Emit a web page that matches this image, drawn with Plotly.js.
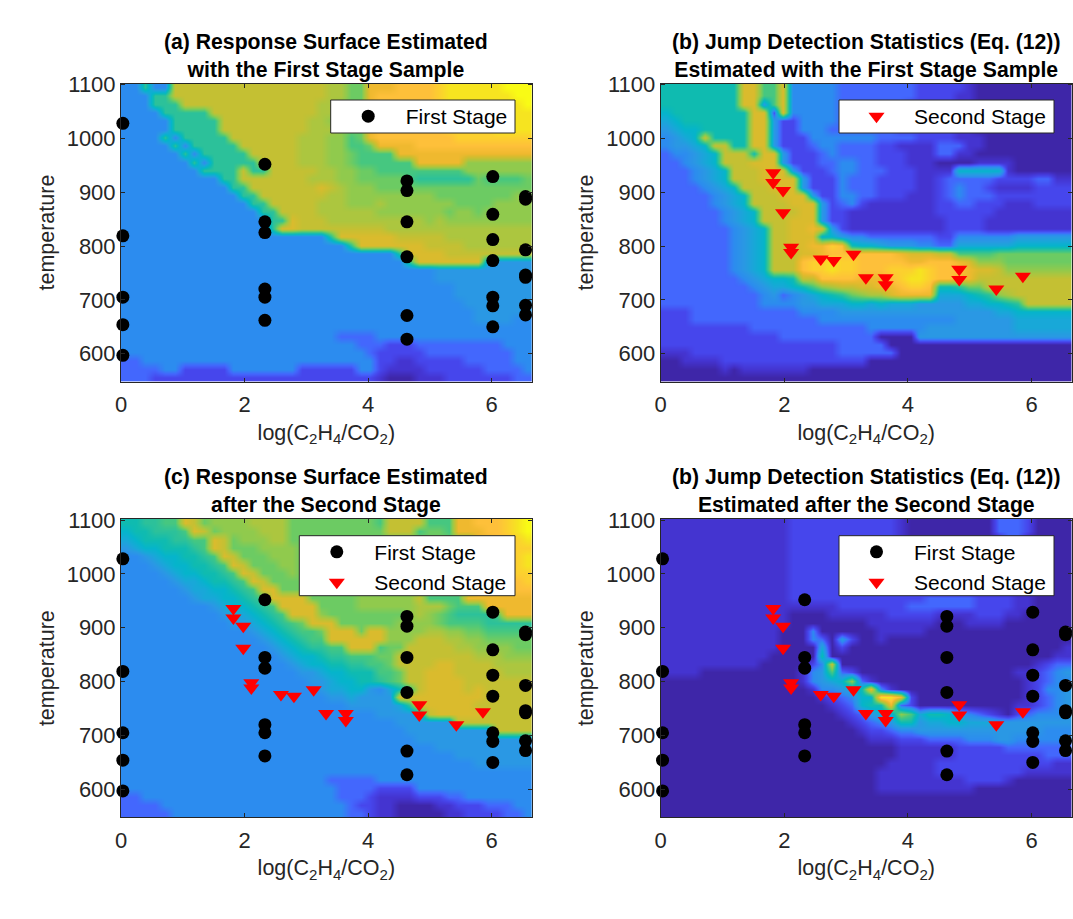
<!DOCTYPE html>
<html><head><meta charset="utf-8">
<script src="https://cdn.plot.ly/plotly-3.0.1.min.js"></script>
<style>html,body{margin:0;padding:0;background:#fff}</style></head>
<body><div id="chart" style="width:1073px;height:919px"></div>
<script>
// Each surface: rows from top (high temperature) to bottom, one base-36 colour level per cell.
const surfaceA = [
"44944e eeeeee eeeeee eeeddb bggghh hhijjj jjjkkk",
"44499e eeeeee eeeeee eeeddb bghhhh hhijjj jjjjkk",
"444999 eeeeee eeeeee eeddcb bghhhh hhijjj jjjjjk",
"444499 999eee eeeeee eeddcb bghhhh hhiijj jjjjjj",
"444449 9999ee eeeeee eddccb bghhhh hhiiij jjjjjj",
"444449 9999ee eeeeee edddcb bghhhh hhhiii iijjjj",
"444494 99999e eeeeee dddcca bghhhh hhhhii iiiiii",
"444449 499999 eeeeee dddcca abgggg hhhhhh hhhhhh",
"444444 949999 9eeeee dddccb aaaagg gggggg gggggg",
"444444 494999 99eeee dddccb aaaaaa gggggc cccccc",
"444444 449999 e99eee eeddcc bbaaaa aaaaac cccccc",
"444444 444499 eeeeee edddcc bbbbba 999999 baaaab",
"444444 444449 9eeeee eefedc ccbbbb bbbbbb bbbbbb",
"444444 444444 99eeee eeeddc cccccc ccbbbb bbbbcc",
"444444 444444 499eee eedddc ccdccc ccccbb bbcccc",
"444444 444444 4499ee eedddd ddcccc cccbcc bccccc",
"444444 444444 44499f eeeddd dddddd dcdccc cccccc",
"444444 444444 4449ff eeeeee eeeddd dddddd dddddd",
"444444 444444 444444 4449ff ffffee eeeddd dddddd",
"444444 444444 444444 444449 ffffff feeeed dddddd",
"444444 444444 444444 444444 44449f fffeee eeeeee",
"444444 444444 444444 444444 444449 ffffff f55555",
"444444 444444 444444 444444 444444 445555 555555",
"444444 444444 444444 444444 444444 445555 555555",
"444444 444444 444444 444444 444444 444455 555555",
"444444 444444 444444 444444 444444 444455 555555",
"444444 444444 444444 444444 444444 444445 555555",
"444444 444444 444444 444444 444444 444444 555555",
"444444 444444 444444 444444 444444 444444 555544",
"444444 444444 444444 444444 444444 444444 444444",
"444444 444444 444444 444433 334444 444444 444444",
"444444 444444 444444 444444 333222 333333 333444",
"444444 444444 444444 444444 432222 233333 333344",
"334444 444444 444444 444444 442211 222223 333344",
"333344 222224 444444 222222 442111 122222 233334",
"333222 222222 222222 222222 221000 111222 222233"
];
const surfaceB = [
"888888 88ffaa f44444 333333 332222 210000 000000",
"888888 88ffaa f44444 333333 332222 110000 000000",
"888888 88ff5a f44444 333333 322222 110000 000000",
"788888 888ff2 f44444 333333 322222 110000 000000",
"678888 888ff5 224444 333333 322222 110000 000000",
"567788 888ff5 224443 333333 222222 110000 000000",
"4567e8 888ff5 222444 444433 332222 111000 000000",
"45567e e88ff5 222344 333322 111133 311000 000000",
"344567 eee8ff 522234 333322 211133 110000 000000",
"334567 eeefff 522233 443322 211100 001111 000000",
"333456 7eeeff f52223 443332 221111 777771 000000",
"333456 7eeeff ff5222 433322 221123 333322 223311",
"333345 67eeef ff5222 433322 221123 433211 112222",
"333334 567eee fff522 443322 211123 433322 222222",
"333334 567eee efff52 342111 111122 332221 112222",
"333333 4567ee eeff52 211111 111122 222211 111111",
"333333 4567ee efff52 211111 111112 222111 111111",
"333333 34567e effgf5 211111 111112 222111 111111",
"333333 34567e efff77 544333 333322 444444 555555",
"333333 34567e effggi h87765 554433 666666 777777",
"333333 34567e eeffgh hhhhhh gfffee aaaabb bbbbbb",
"333333 34567e eehiij iihhhh hgghhh gfcccb bbbbbb",
"333333 34567e eehiij iihhhi iijihh hgffec cccccc",
"333333 334567 78eehh hhgggh ijjihh ggeeee eeeeee",
"333333 333456 678acd eeffgg hiih88 9bbeee eeeeee",
"333333 333345 345678 9bcddf gggg66 6789cd eeeeee",
"333333 333344 445566 677676 665555 566778 9eeeee",
"222333 333333 334444 555555 555555 555566 777777",
"222333 333333 333344 444444 444444 555555 666666",
"222222 222333 333333 333444 444555 555555 666666",
"222222 222222 333333 333300 005555 555555 555555",
"222222 222222 222222 333330 000000 000000 000000",
"111222 222222 222222 333333 000000 000000 000000",
"001111 222222 222222 222000 000000 000000 000000",
"000000 101111 111000 000000 000000 000000 000000",
"000000 000000 000000 000000 000000 000000 000000"
];
const surfaceC = [
"8899aa febccc cddddb bbbbbb bbaeee eaaagg hhhijk",
"788999 afebcc ccdddb bbbbbb bbbeee abbagg ghhijk",
"678889 9aafeb cccddb bbbbbb bbbbbb bbbbbb gghhij",
"567788 89afeb bbcccc bbbbbb bbbbbb bbbbbb gghhii",
"445677 889afe bbbccc bbbbbb bbbbbb bbbbbb gghhij",
"444567 7889af ebbbcc bbbbbb bbbbbb bbbbbb gghhij",
"444456 77889a febbbc bbbbbb bbbbbb bbbbbb gghhii",
"444445 667889 afebbb bbbbbb bbbbbb bbbbbb ggghhi",
"444444 566778 9affbb bbbbbb bbbbbb bbbbbb gggghh",
"444444 456677 89afff fbbbbb cccccc eaaaag gggggg",
"444444 444567 789aff ffbbbb cccccc dddbaa aggggg",
"444444 444456 6789af ffcbbb bbbbbc dcba99 99aggg",
"444444 444445 56789a bfffbb bbbbcc ccbaaa a99999",
"444444 444444 456789 aabfff bffccc cddccb baaaaa",
"444444 444444 445678 9aafff fffccc eeeddc cbbbbb",
"444444 444444 444567 899aaf ffabbe eeeedd ccccbb",
"444444 444444 444456 77899a aabbee eeeeee dddccc",
"444444 444444 444445 677889 9aabee eeffee eedddd",
"444444 444444 444444 556778 88aabe efffee eeeddd",
"444444 444444 444444 455677 889abe effffe eeeeee",
"444444 444444 444444 445667 754689 effffe feeeee",
"444444 444444 444444 444556 5555ff ffffff feeeee",
"444444 444444 444444 444445 555569 ffffff eeeeee",
"444444 444444 444444 444444 445555 6effff feeeee",
"444444 444444 444444 444444 444455 5555ee eeeeee",
"444444 444444 444444 444444 444445 555555 55eeee",
"444444 444444 444444 444444 444444 555555 555555",
"444444 444444 444444 444444 444444 445555 555555",
"444444 444444 444444 444444 444444 444455 555555",
"444444 444444 444444 444444 444444 444444 555555",
"444444 444444 444444 444444 444444 444444 444444",
"444444 444444 444444 444333 334444 444444 444444",
"444444 444444 444444 444433 332222 444444 444444",
"334444 444444 444444 444433 321111 222334 444444",
"333344 444444 444444 444443 221100 001122 233344",
"333334 444444 444444 444443 321100 000112 222334"
];
const surfaceD = [
"111111 111111 122222 222222 100000 000033 320000",
"111111 111111 122222 222222 100000 000033 320000",
"111111 111111 122222 222222 100000 000003 300000",
"111111 111111 122222 222222 100000 000000 000000",
"111111 111111 122222 222222 100000 000000 000000",
"111111 111111 122222 222222 100000 000000 000000",
"111111 111111 122222 222222 110000 000000 000000",
"111111 111111 122222 222222 111000 000000 000000",
"111111 111111 122222 222222 222000 000000 000000",
"111111 111111 122222 222222 222333 332222 110000",
"111111 111111 111111 222222 233333 332222 110000",
"111111 111111 100001 111112 222211 112221 100000",
"111111 111111 100000 000111 111100 011110 000000",
"111111 111111 000400 000011 111000 000000 000000",
"111111 111111 000430 520010 000000 000000 000000",
"111111 111111 000060 200000 000000 000000 000001",
"111111 111110 000080 000000 000000 000000 000011",
"111111 111100 00024e 000000 000000 000000 001233",
"111100 000000 00145a 320000 000000 000000 112345",
"000000 000000 001456 7c3100 000000 000000 012344",
"000000 000000 000144 568g41 000000 000000 012445",
"000000 000000 000012 3477jj g20000 000000 012345",
"000000 000000 000001 23788g 320000 000000 112345",
"000000 000000 000000 123566 ca6887 543210 234445",
"000000 000000 000000 012345 885667 766655 555555",
"000000 000000 000000 001223 445555 555555 555444",
"000000 000000 000000 000111 222333 344455 444444",
"000000 000000 000000 000000 111111 222223 333333",
"000000 000000 000000 000000 111111 222222 222333",
"000000 000000 000000 000001 111122 222222 222211",
"000000 000000 000000 000011 111122 222222 211111",
"000000 000000 000000 000011 111111 122221 000000",
"000000 000000 000000 000011 111111 110000 000000",
"000000 000000 000000 000000 000000 000000 000000",
"000000 000000 000000 000000 000000 000000 000000",
"000000 000000 000000 000000 000000 000000 000000"
];
const parulaLevels = ["#3e26a8","#4434d0","#4646ec","#4367fd","#2c8cef","#2a98e4","#18a8d8","#05b4cb","#0fbbb0","#2cc19a","#46c780","#6ccb63","#90ca4d","#acc63f","#c4c033","#dabb2d","#efb92f","#fec03a","#fcd02f","#f6e420","#f9fb15"];
const firstX = [0.03,0.03,0.03,0.03,0.03, 2.33,2.33,2.33,2.33,2.33,2.33, 4.63,4.63,4.63,4.63,4.63,4.63, 6.02,6.02,6.02,6.02,6.02,6.02,6.02, 6.55,6.55,6.55,6.55,6.55,6.55,6.55];
const firstY = [1028,819,705,654,597, 952,845,825,720,705,662, 921,903,845,780,671,627, 929,859,812,773,705,689,650, 892,887,793,746,742,690,672];
const secondX = [1.82,1.82,1.98,1.98,2.11,2.11,2.59,2.80,3.12,3.32,3.64,3.64,4.83,4.83,5.43,5.86];
const secondY = [936,918,903,862,798,788,776,773,785,741,741,728,757,738,720,744];
const xTicks = [0,2,4,6];
const yTicks = [600,700,800,900,1000,1100];
const titles = [
 "(a) Response Surface Estimated<br>with the First Stage Sample",
 "(b) Jump Detection Statistics (Eq. (12))<br>Estimated with the First Stage Sample",
 "(c) Response Surface Estimated<br>after the Second Stage",
 "(b) Jump Detection Statistics (Eq. (12))<br>Estimated after the Second Stage"
];
const xRange = [0,6.65], yRange = [548,1102];
const W = 1073, H = 919;
const FONT = '"Liberation Sans", Arial, sans-serif', INK = '#262626';

function decode(rows){
  return rows.map(r=>r.replace(/\s/g,'').slice(0,42).padEnd(42,r.trim().slice(-1)).split('').map(ch=>parseInt(ch,36))).reverse();
}
const scale = parulaLevels.map((c,i)=>[i/(parulaLevels.length-1),c]);
const cx = Array.from({length:42},(_,i)=>(i+.5)*(xRange[1]-xRange[0])/42);
const cy = Array.from({length:36},(_,j)=>yRange[0]+(j+.5)*(yRange[1]-yRange[0])/36);
const panels = [
 {z:surfaceA, L:121,   R:531.7,  T:83.5, B:381.7, first:true,  second:false, leg:[330.7,100,515,133]},
 {z:surfaceB, L:660.7, R:1071.7, T:83.5, B:381.7, first:false, second:true,  leg:[839,100,1054,133]},
 {z:surfaceC, L:121,   R:531.7,  T:519,  B:817.3, first:true,  second:true,  leg:[299.3,535.7,515,595.7]},
 {z:surfaceD, L:660.7, R:1071.7, T:519,  B:817.3, first:true,  second:true,  leg:[839,535.7,1054,595.7]}
];
const traces=[], layout={width:W,height:H,margin:{l:0,r:0,t:0,b:0},paper_bgcolor:'#fff',plot_bgcolor:'#fff',
  font:{family:FONT,color:INK},annotations:[],shapes:[],showlegend:true};
panels.forEach((p,i)=>{
  const k=i+1, xa='x'+(k>1?k:''), ya='y'+(k>1?k:''), lg='legend'+(k>1?k:'');
  traces.push({type:'heatmap',x:cx,y:cy,z:decode(p.z),xaxis:xa,yaxis:ya,colorscale:scale,zmin:0,zmax:20,showscale:false,zsmooth:'best',hoverinfo:'skip'});
  if(p.first) traces.push({type:'scatter',mode:'markers',name:'First Stage',x:firstX,y:firstY,xaxis:xa,yaxis:ya,legend:lg,cliponaxis:false,
     marker:{symbol:'circle',size:13,color:'#000'}});
  if(p.second) traces.push({type:'scatter',mode:'markers',name:'Second Stage',x:secondX,y:secondY,xaxis:xa,yaxis:ya,legend:lg,cliponaxis:false,
     marker:{symbol:'triangle-down',size:14,color:'#ff0000'}});
  const ax={showline:true,linecolor:INK,linewidth:1,mirror:'ticks',ticks:'inside',ticklen:4,tickcolor:INK,showgrid:false,zeroline:false,
     tickfont:{family:FONT,size:22,color:INK}};
  layout['xaxis'+(k>1?k:'')]=Object.assign({},ax,{domain:[p.L/W,p.R/W],range:xRange,tickvals:xTicks,anchor:ya,ticklabelstandoff:3,
     title:{text:'log(C<sub>2</sub>H<sub>4</sub>/CO<sub>2</sub>)',font:{family:FONT,size:21.5,color:INK},standoff:8}});
  layout['yaxis'+(k>1?k:'')]=Object.assign({},ax,{domain:[1-p.B/H,1-p.T/H],range:yRange,tickvals:yTicks,anchor:xa,
     title:{text:'temperature',font:{family:FONT,size:21.5,color:INK},standoff:6}});
  layout.shapes.push({type:'rect',xref:'paper',yref:'paper',x0:p.leg[0]/W,x1:p.leg[2]/W,y0:1-p.leg[3]/H,y1:1-p.leg[1]/H,
     fillcolor:'#fff',line:{color:INK,width:1},layer:'above'});
  layout[lg]={x:p.leg[0]/W,y:1-(p.leg[1]-4)/H,xanchor:'left',yanchor:'top',bgcolor:'rgba(0,0,0,0)',borderwidth:0,
     font:{family:FONT,size:21,color:'#000'},itemwidth:65,tracegroupgap:0,traceorder:'normal'};
  layout.annotations.push({xref:'paper',yref:'paper',x:(p.L+p.R)/2/W,y:1-p.T/H,xanchor:'center',yanchor:'bottom',showarrow:false,
     text:'<b>'+titles[i].replace('<br>','</b><br><b>')+'</b>',font:{family:FONT,size:21.2,color:'#000'},align:'center'});
});
Plotly.newPlot('chart',traces,layout,{staticPlot:true,displayModeBar:false});
</script></body></html>
